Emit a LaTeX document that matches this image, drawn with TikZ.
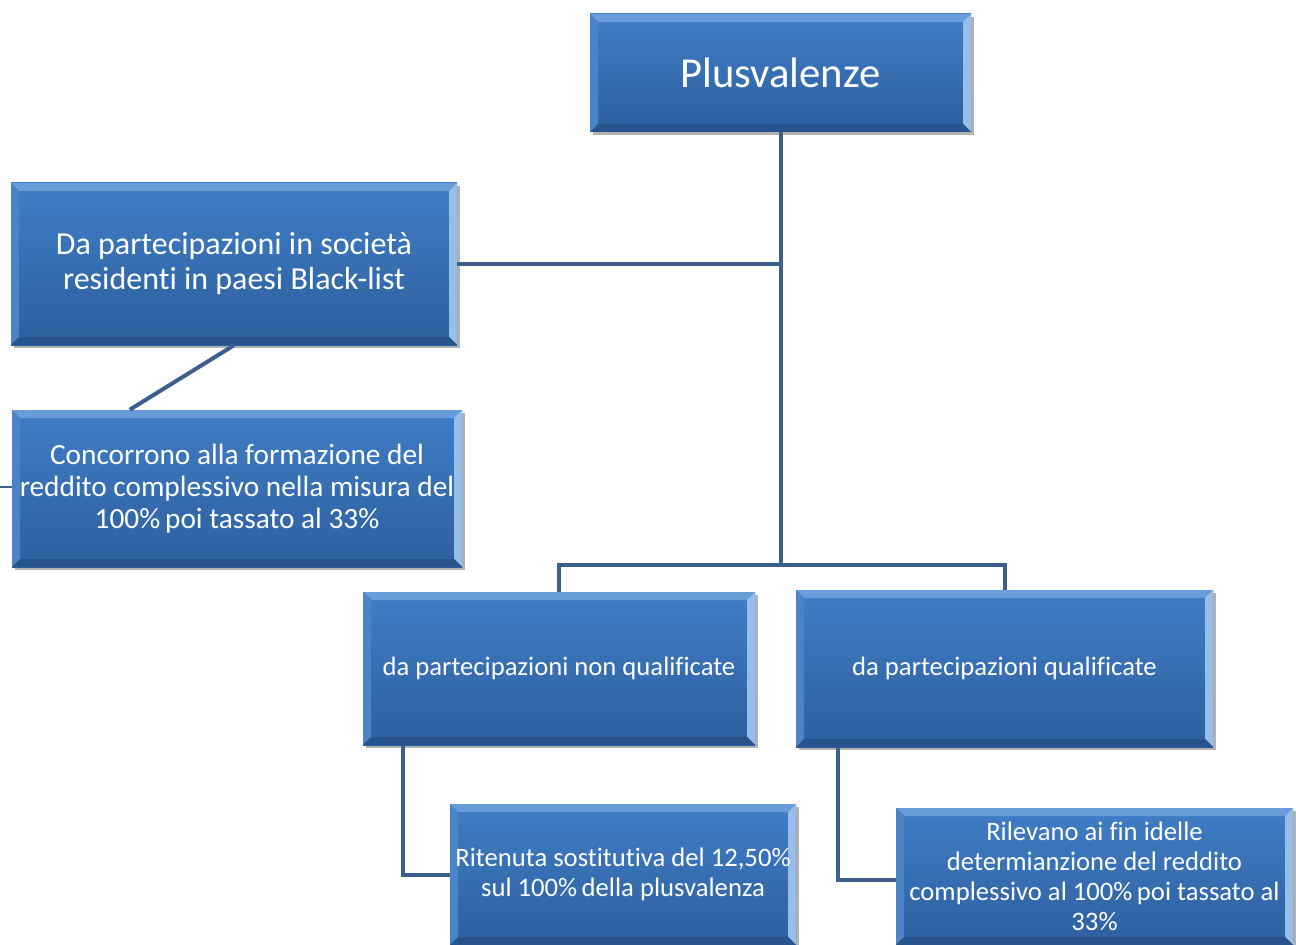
\documentclass[tikz,border=0pt]{standalone}
\usepackage{fontspec}
\setmainfont[Ligatures=NoCommon]{Carlito}
\usetikzlibrary{shadows,calc}

\definecolor{boxtop}{RGB}{64,126,198}
\definecolor{boxbot}{RGB}{45,95,158}
\definecolor{bevlight}{RGB}{105,157,218}
\definecolor{bevright}{RGB}{150,190,232}
\definecolor{bevleft}{RGB}{74,132,200}
\definecolor{bevdark}{RGB}{40,84,142}
\definecolor{linkcol}{RGB}{60,95,140}

\def\bv{6pt}
\newcommand\fsz[2]{\fontsize{#1}{#2}\selectfont}

\tikzset{
  box/.style={
    rectangle, inner sep=2pt, align=center, text=white,
    top color=boxtop, bottom color=boxbot,
    drop shadow={shadow xshift=2.5pt, shadow yshift=-2.5pt, fill=black, opacity=0.3},
    path picture={
      \fill[bevlight] (path picture bounding box.north west) -- (path picture bounding box.north east)
        -- ([shift={(-\bv,-\bv)}]path picture bounding box.north east)
        -- ([shift={(\bv,-\bv)}]path picture bounding box.north west) -- cycle;
      \fill[bevright] (path picture bounding box.north east) -- (path picture bounding box.south east)
        -- ([shift={(-\bv,\bv)}]path picture bounding box.south east)
        -- ([shift={(-\bv,-\bv)}]path picture bounding box.north east) -- cycle;
      \fill[bevleft] (path picture bounding box.north west) -- (path picture bounding box.south west)
        -- ([shift={(\bv,\bv)}]path picture bounding box.south west)
        -- ([shift={(\bv,-\bv)}]path picture bounding box.north west) -- cycle;
      \fill[bevdark] (path picture bounding box.south west) -- (path picture bounding box.south east)
        -- ([shift={(-\bv,\bv)}]path picture bounding box.south east)
        -- ([shift={(\bv,\bv)}]path picture bounding box.south west) -- cycle;
    }
  },
  link/.style={draw=linkcol, line width=3pt},
  thinlink/.style={draw=linkcol, line width=1pt}
}

% box from its corners (x1,y1)-(x2,y2), given in pixel units; #6 = font
\newcommand\bbox[7]{%
  \node[box, font={#6}, minimum width={(#4-#2)*0.75pt}, minimum height={(#5-#3)*0.75pt}]
    (#1) at ({(#2+#4)/2},{(#3+#5)/2}) {#7};}

\begin{document}
\begin{tikzpicture}[x=0.75pt,y=-0.75pt]
\useasboundingbox[fill=white] (0,0) rectangle (1296,945);

\bbox{top}{590}{14}{971}{132}{\fsz{32}{38}}{Plusvalenze}
\bbox{bl}{11}{183}{457}{345}{\fsz{24}{26.25}}{Da partecipazioni in società\\residenti in paesi Black-list}
\bbox{cc}{12}{410}{462}{567}{\fsz{22}{24}}{Concorrono alla formazione del\\reddito complessivo nella misura del\\100\%\,poi tassato al 33\%}
\bbox{nq}{363}{592}{755}{745}{\fsz{20}{24}}{da partecipazioni non qualificate}
\bbox{q}{796}{590}{1213}{747}{\fsz{20}{24}}{da partecipazioni qualificate}
\bbox{rit}{450}{804}{796}{945}{\fsz{20}{22.5}}{Ritenuta sostitutiva del 12,50\%\\sul 100\%\,della plusvalenza}
\bbox{ril}{896}{808}{1293}{945}{\fsz{20}{22.5}}{Rilevano ai fin idelle\\determianzione del reddito\\complessivo al 100\%\,poi tassato al\\33\%}

% junction of the trunk with the lower bus
\coordinate (bus) at ($(top.south)+(0,433)$);

\draw[link] (top.south) -- (bus);
\draw[link] (bl.east) -- (bl.east -| top.south);
\draw[link] (bl.south) -- ([xshift=88.5pt]cc.north west);
\draw[link] (nq.north) |- (bus) -| (q.north);
\draw[link] ([xshift=-117pt]nq.south) |- (rit.west);
\draw[link] ([xshift=-124.9pt]q.south) |- ([yshift=-2.6pt]ril.west);
\coordinate (tick) at (0,487);
\draw[thinlink] (cc.west |- tick) -- (tick);
\end{tikzpicture}
\end{document}
